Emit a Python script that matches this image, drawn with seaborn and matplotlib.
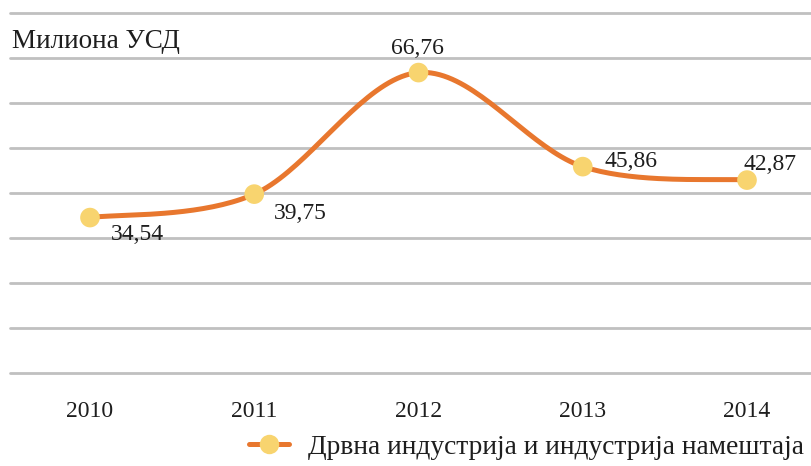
import numpy as np
import pandas as pd
import seaborn as sns
import matplotlib.pyplot as plt
from matplotlib.lines import Line2D

years = ["2010", "2011", "2012", "2013", "2014"]
values = [34.54, 39.75, 66.76, 45.86, 42.87]
value_labels = ["34,54", "39,75", "66,76", "45,86", "42,87"]
series_name = "Дрвна индустрија и индустрија намештаја"
unit_label = "Милиона УСД"

LINE_COLOR = "#e8772e"
MARK_COLOR = "#f8d46f"
GRID_COLOR = "#c0c0c0"
TEXT_COLOR = "#1e1e1e"


def smooth_curve(xs, ys, steps=40):
    # Excel-like smoothed line: Catmull-Rom segments as cubic Bezier
    pts = np.column_stack([xs, ys]).astype(float)
    n = len(pts)
    out = [pts[0]]
    for i in range(n - 1):
        p0 = pts[max(i - 1, 0)]
        p1 = pts[i]
        p2 = pts[i + 1]
        p3 = pts[min(i + 2, n - 1)]
        c1 = p1 + (p2 - p0) / 6
        c2 = p2 - (p3 - p1) / 6
        t = np.linspace(0, 1, steps)[1:, None]
        seg = ((1 - t) ** 3) * p1 + 3 * ((1 - t) ** 2) * t * c1 + 3 * (1 - t) * t ** 2 * c2 + t ** 3 * p2
        out.extend(seg)
    out = np.array(out)
    return out[:, 0], out[:, 1]


sns.set_theme(style="white")
plt.rcParams["font.family"] = ["Liberation Serif", "DejaVu Serif"]

df = pd.DataFrame({"x": np.arange(len(years)), "value": values})
cx, cy = smooth_curve(df["x"].values, df["value"].values)
curve = pd.DataFrame({"x": cx, "value": cy})

fig = plt.figure(figsize=(8.12, 4.66), dpi=100)
ax = fig.add_axes([10 / 812, 93 / 466, 802 / 812, 360 / 466])

sns.lineplot(data=curve, x="x", y="value", color=LINE_COLOR, linewidth=3.6,
             sort=False, ax=ax, zorder=3)
sns.scatterplot(data=df, x="x", y="value", color=MARK_COLOR, s=200,
                edgecolor="none", ax=ax, zorder=4)

ax.set_ylim(0, 80)
ax.set_xlim(-80 / 164.25, 4 + 65 / 164.25)
ax.set_yticks(np.arange(0, 81, 10))
ax.yaxis.grid(True, color=GRID_COLOR, linewidth=2)
ax.set_axisbelow(True)
ax.set_yticklabels([])
ax.tick_params(axis="y", length=0)
for gl in ax.get_ygridlines():
    gl.set_clip_on(False)
ax.set_xticks(df["x"])
ax.set_xticklabels(years, fontsize=17, color=TEXT_COLOR)
ax.tick_params(axis="x", length=0, pad=20)
ax.set_xlabel("")
ax.set_ylabel("")
for s in ax.spines.values():
    s.set_visible(False)

offsets = [(47, -17), (46, -19), (-1, 24), (48, 5), (23, 16)]
for i, (lab, off) in enumerate(zip(value_labels, offsets)):
    ax.annotate(lab, (i, values[i]), xytext=off, textcoords="offset pixels",
                ha="center", va="center", fontsize=17, color=TEXT_COLOR)

fig.text(12 / 812, 1 - 42 / 466, unit_label, fontsize=19.5, color=TEXT_COLOR,
         ha="left", va="center")

handle = Line2D([], [], color=LINE_COLOR, linewidth=3.6, marker="o",
                markersize=14, markerfacecolor=MARK_COLOR, markeredgecolor="none")
fig.legend([handle], [series_name], loc="center left",
           bbox_to_anchor=(224 / 812, 1 - 447 / 466), frameon=False,
           fontsize=19.8, handlelength=1.45, handletextpad=0.7,
           labelcolor=TEXT_COLOR)

fig.savefig("out.png", dpi=100)
